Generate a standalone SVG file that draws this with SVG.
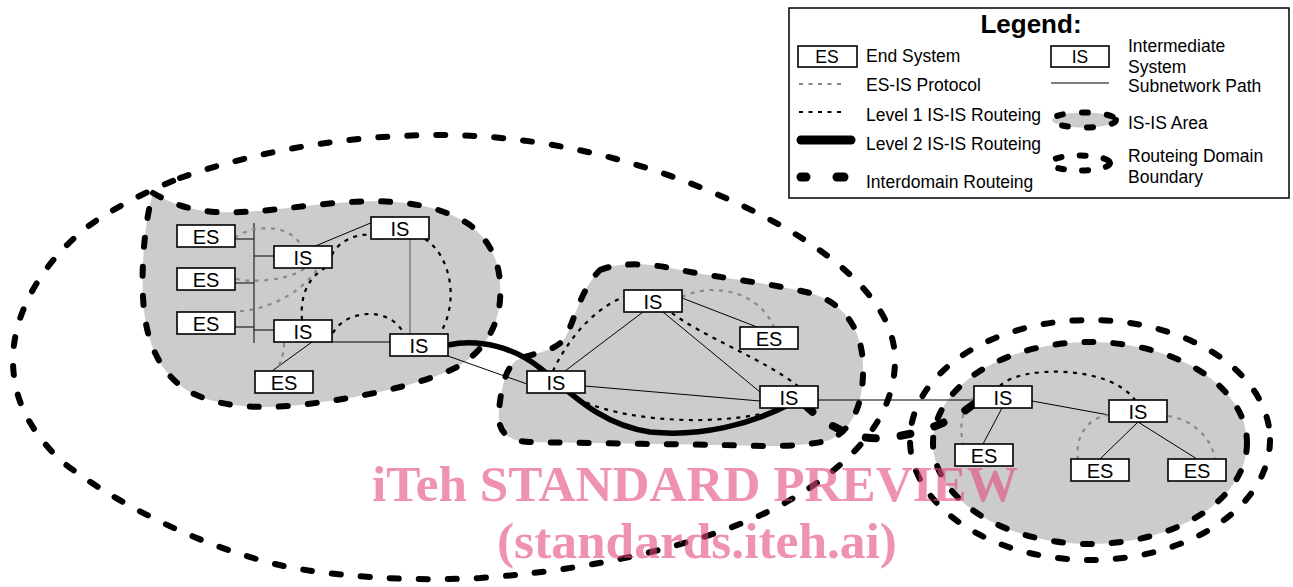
<svg xmlns="http://www.w3.org/2000/svg" width="1293" height="587" viewBox="0 0 1293 587">
<style>
.bnd{fill:none;stroke:#000;stroke-width:6;stroke-linecap:round;stroke-dasharray:9 20}
.area{fill:#cccccc;stroke:#000;stroke-width:6;stroke-linecap:round;stroke-dasharray:9 20}
.sub{fill:none;stroke:#000;stroke-width:1}
.l1{fill:none;stroke:#000;stroke-width:2.2;stroke-dasharray:4 5.5}
.esis{fill:none;stroke:#8a8a8a;stroke-width:2.2;stroke-dasharray:4 5.5}
.l2{fill:none;stroke:#000;stroke-width:5.5;stroke-linecap:round}
.idr{fill:none;stroke:#000;stroke-width:8;stroke-linecap:round;stroke-dasharray:10 25}
.box{fill:#fff;stroke:#000;stroke-width:1.6}
.lbl{font-family:"Liberation Sans",Arial,sans-serif;font-size:20px;text-anchor:middle;fill:#000}
.lt{font-family:"Liberation Sans",Arial,sans-serif;font-size:17.5px;fill:#000}
.wm{font-family:"Liberation Serif","Times New Roman",serif;font-weight:bold;font-size:50px;fill:#e34a7c;opacity:0.6;text-anchor:middle}
</style>

<!-- routeing domain boundaries -->
<g id="domain-left">
<path class="bnd" d="M180,178 C260,150 350,135 440,135 C560,135 680,170 780,225 C850,265 895,310 895,360 C895,420 850,465 790,500 C730,535 620,568 480,578 C400,582 330,575 288,567 C200,548 110,500 60,460 C30,430 13,400 13,360 C13,300 60,240 110,212 C130,200 155,188 180,178 Z"/>
</g>
<g id="domain-right">
<ellipse class="bnd" cx="1090" cy="440" rx="180" ry="120"/>
</g>

<!-- IS-IS areas -->
<g id="area-1">
<path class="area" d="M153,193 C165,200 185,210 215,212 C260,214 300,205 350,202 C400,199 440,205 470,225 C495,245 502,270 500,300 C498,330 480,355 455,368 C420,385 360,398 300,405 C250,410 215,405 190,392 C165,378 148,350 144,310 C140,270 145,220 153,193 Z"/>
</g>
<g id="area-2">
<path class="area" d="M600,270 C620,262 650,263 680,270 C720,278 770,283 810,293 C845,303 862,330 863,365 C864,400 855,428 830,440 C800,448 760,446 720,445 C660,444 580,443 530,442 C505,441 497,430 499,410 C501,390 505,368 517,360 C535,352 555,352 565,338 C575,320 580,290 600,270 Z"/>
</g>
<g id="area-3">
<ellipse class="area" cx="1090" cy="443" rx="157" ry="101"/>
</g>

<!-- connectors -->
<g id="connectors">
<path class="sub" d="M254,223 V343 M235,239 H254 M235,283 H254 M235,327 H254 M254,256 H274 M254,330 H274"/>
<path class="sub" d="M313,247 L373,222"/>
<path class="sub" style="stroke:#555" d="M410,239 V334"/>
<path class="sub" d="M332,342 H390 M312,342 L272,371 M448,356 L527,384"/>
<path class="sub" d="M682,298 L757,327 M643,312 L565,371 M663,312 L760,392 M585,386 L760,401 M818,400 H974"/>
<path class="sub" d="M1032,401 L1109,415 M1002,408 L983,444 M1138,422 L1100,459 M1138,422 L1197,459"/>

<path class="esis" d="M235,238 C250,225 290,222 302,247"/>
<path class="esis" d="M236,279 C255,283 290,280 305,268"/>
<path class="esis" d="M240,311 C265,310 300,295 318,268"/>
<path class="esis" d="M284,343 C284,355 280,365 276,371"/>
<path class="esis" d="M682,297 C705,285 755,285 774,327"/>
<path class="esis" d="M973,398 C960,410 960,430 963,444"/>
<path class="esis" d="M1109,415 C1085,418 1075,440 1078,459"/>
<path class="esis" d="M1168,416 C1195,420 1212,440 1215,459"/>

<path class="l1" d="M332,255 C338,240 365,228 382,239"/>
<path class="l1" d="M302,320 C300,295 308,278 325,268"/>
<path class="l1" d="M333,333 C345,310 390,305 404,334"/>
<path class="l1" d="M425,239 C450,255 460,300 440,334"/>
<path class="l1" d="M553,371 C565,345 590,310 624,297"/>
<path class="l1" d="M672,313 C700,335 765,360 798,386"/>
<path class="l1" d="M570,393 C600,418 700,428 765,413"/>
<path class="l1" d="M1000,386 C1020,365 1110,365 1135,400"/>

<path class="l2" d="M448,345 C480,338 515,348 540,368 C570,392 600,425 650,432 C700,437 750,425 792,403"/>
<path class="idr" d="M805,405 C830,430 860,440 880,438 C920,436 955,420 975,403"/>
</g>

<!-- nodes -->
<g id="es1"><rect class="box" x="177" y="225" width="58" height="22"/><text class="lbl" x="206" y="244">ES</text></g>
<g id="es2"><rect class="box" x="177" y="268" width="58" height="22"/><text class="lbl" x="206" y="287">ES</text></g>
<g id="es3"><rect class="box" x="177" y="312" width="58" height="22"/><text class="lbl" x="206" y="331">ES</text></g>
<g id="es4"><rect class="box" x="255" y="371" width="58" height="22"/><text class="lbl" x="284" y="390">ES</text></g>
<g id="is1"><rect class="box" x="274" y="246" width="58" height="22"/><text class="lbl" x="303" y="265">IS</text></g>
<g id="is2"><rect class="box" x="371" y="217" width="58" height="22"/><text class="lbl" x="400" y="236">IS</text></g>
<g id="is3"><rect class="box" x="274" y="320" width="58" height="22"/><text class="lbl" x="303" y="339">IS</text></g>
<g id="is4"><rect class="box" x="390" y="334" width="58" height="22"/><text class="lbl" x="419" y="353">IS</text></g>
<g id="is5"><rect class="box" x="624" y="290" width="58" height="22"/><text class="lbl" x="653" y="309">IS</text></g>
<g id="es5"><rect class="box" x="740" y="327" width="58" height="22"/><text class="lbl" x="769" y="346">ES</text></g>
<g id="is6"><rect class="box" x="527" y="371" width="58" height="22"/><text class="lbl" x="556" y="390">IS</text></g>
<g id="is7"><rect class="box" x="760" y="386" width="58" height="22"/><text class="lbl" x="789" y="405">IS</text></g>
<g id="is8"><rect class="box" x="974" y="386" width="58" height="22"/><text class="lbl" x="1003" y="405">IS</text></g>
<g id="is9"><rect class="box" x="1109" y="400" width="58" height="22"/><text class="lbl" x="1138" y="419">IS</text></g>
<g id="es6"><rect class="box" x="955" y="444" width="58" height="22"/><text class="lbl" x="984" y="463">ES</text></g>
<g id="es7"><rect class="box" x="1071" y="459" width="58" height="22"/><text class="lbl" x="1100" y="478">ES</text></g>
<g id="es8"><rect class="box" x="1168" y="459" width="58" height="22"/><text class="lbl" x="1197" y="478">ES</text></g>

<!-- legend -->
<g id="legend">
<rect x="789" y="8" width="500" height="190" fill="#fff" stroke="#000" stroke-width="1.5"/>
<text x="1031" y="33" style="font-family:'Liberation Sans',Arial,sans-serif;font-size:26px;font-weight:bold;text-anchor:middle">Legend:</text>
<rect class="box" x="798" y="46" width="59" height="21"/>
<text x="827" y="63" class="lt" text-anchor="middle">ES</text>
<text x="866" y="62" class="lt">End System</text>
<line x1="799" y1="84" x2="846" y2="84" class="esis"/>
<text x="866" y="91" class="lt">ES-IS Protocol</text>
<line x1="799" y1="112" x2="846" y2="112" class="l1"/>
<text x="866" y="121" class="lt">Level 1 IS-IS Routeing</text>
<line x1="801" y1="140" x2="851" y2="140" stroke="#000" stroke-width="9" stroke-linecap="round"/>
<text x="866" y="150" class="lt">Level 2 IS-IS Routeing</text>
<line x1="801" y1="177" x2="806" y2="177" stroke="#000" stroke-width="9" stroke-linecap="round"/>
<line x1="837" y1="177" x2="844" y2="177" stroke="#000" stroke-width="9" stroke-linecap="round"/>
<text x="866" y="188" class="lt">Interdomain Routeing</text>
<rect class="box" x="1051" y="46" width="58" height="21"/>
<text x="1080" y="63" class="lt" text-anchor="middle">IS</text>
<text x="1128" y="52" class="lt">Intermediate</text>
<text x="1128" y="73" class="lt">System</text>
<line x1="1051" y1="83" x2="1109" y2="83" stroke="#000" stroke-width="1.2"/>
<text x="1128" y="92" class="lt">Subnetwork Path</text>
<ellipse cx="1084" cy="120" rx="32" ry="7.5" fill="#cccccc" stroke="#000" stroke-width="6" stroke-linecap="round" stroke-dasharray="6 19"/>
<text x="1128" y="129" class="lt">IS-IS Area</text>
<ellipse cx="1080" cy="163" rx="30" ry="7.5" fill="none" stroke="#000" stroke-width="6" stroke-linecap="round" stroke-dasharray="6 18"/>
<text x="1128" y="162" class="lt">Routeing Domain</text>
<text x="1128" y="183" class="lt">Boundary</text>
</g>

<!-- watermark -->
<g id="watermark">
<text class="wm" x="695" y="501" textLength="646" lengthAdjust="spacingAndGlyphs">iTeh STANDARD PREVIEW</text>
<text class="wm" x="697" y="558" textLength="400" lengthAdjust="spacingAndGlyphs">(standards.iteh.ai)</text>
</g>
</svg>
